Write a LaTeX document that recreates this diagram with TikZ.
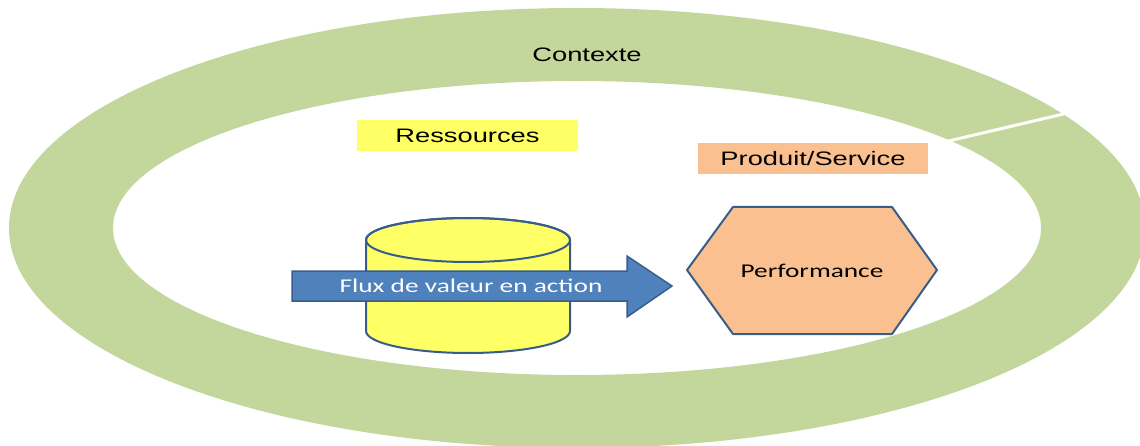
\documentclass[tikz,border=0pt]{standalone}
\usepackage{fontspec}
\usepackage{tikz}
\newfontfamily\labelfont[FakeStretch=1.4]{Liberation Sans}
\newfontfamily\shapefont[FakeStretch=1.4]{Carlito}
\definecolor{ringgreen}{HTML}{C3D69B}
\definecolor{resyellow}{HTML}{FFFF66}
\definecolor{prodpeach}{HTML}{FAC090}
\definecolor{flowblue}{HTML}{4F81BD}
\definecolor{edgeblue}{HTML}{385D8A}

\begin{document}
\begin{tikzpicture}[x=1pt, y=1pt,
  tag/.style={minimum height=31pt, inner sep=0pt, font=\labelfont\fontsize{19.5}{23}\selectfont},
  shapetext/.style={inner sep=0pt, font=\shapefont\fontsize{19.5}{23}\selectfont},
  outline/.style={draw=edgeblue, line width=2pt, line join=round}]

\useasboundingbox (0,0) rectangle (1140,445);

% Context ring
\fill[ringgreen, even odd rule] (577,217) ellipse [x radius=568, y radius=220]
  (577,217) ellipse [x radius=464, y radius=147];
\draw[white, line width=3pt] (940,302) -- (1072,333);
\node[tag] (ctx) at (587,390) {Contexte};

% Labels
\node[tag, fill=resyellow, minimum width=221pt] (res) at (467.5,309.5) {Ressources};
\node[tag, fill=prodpeach, minimum width=230pt] (prod) at (813,286.5) {Produit/Service};

% Cylinder
\filldraw[outline, fill=resyellow] (366,205) -- (366,114)
  arc[start angle=180, end angle=360, x radius=102, y radius=22] -- (570,205)
  arc[start angle=0, end angle=180, x radius=102, y radius=22] -- cycle;
\draw[outline] (468,205) ellipse [x radius=102, y radius=22];

% Value flow arrow
\filldraw[draw=edgeblue, line width=1.5pt, fill=flowblue, line join=miter]
  (292,174) -- (627,174) -- (627,189) -- (672,159) -- (627,128) -- (627,144) -- (292,144) -- cycle;
\node[shapetext, text=white] (flux) at (471,159) {Flux de valeur en action};

% Hexagon
\filldraw[outline, fill=prodpeach] (687,175) -- (733,238) -- (892,238) -- (937,175)
  -- (892,111) -- (733,111) -- cycle;
\node[shapetext] (perf) at (812,174) {Performance};

\end{tikzpicture}
\end{document}
